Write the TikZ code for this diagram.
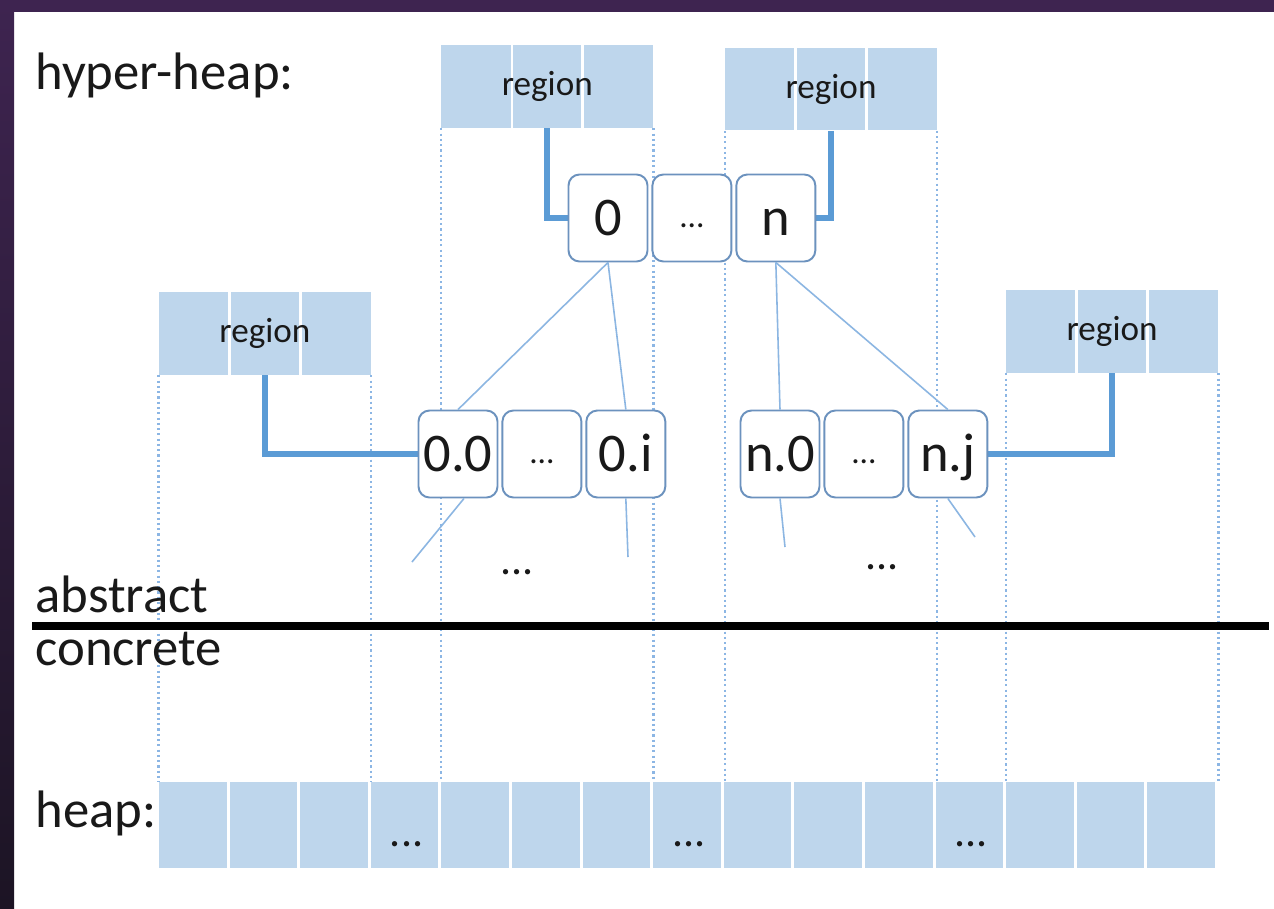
\documentclass[tikz,border=0pt]{standalone}
\usepackage{fontspec}
\setmainfont{Carlito}
\usetikzlibrary{positioning,calc}
\definecolor{cellblue}{RGB}{190,214,236}
\definecolor{idxedge}{RGB}{108,146,190}
\definecolor{linkblue}{RGB}{91,155,213}
\definecolor{treeblue}{RGB}{140,182,226}
\definecolor{guideblue}{RGB}{140,182,228}
\definecolor{frametop}{RGB}{62,36,80}
\definecolor{framebot}{RGB}{28,20,36}
\definecolor{ink}{RGB}{25,25,25}

\begin{document}
\begin{tikzpicture}[x=0.02cm,y=-0.02cm,
 cell/.style={fill=cellblue,minimum width=1.352cm,minimum height=1.72cm,inner sep=0pt},
 region/.style={fill=cellblue,minimum width=4.236cm,minimum height=1.66cm,inner sep=0pt,
   text=ink,font=\fontsize{20}{24}\selectfont,
   path picture={\foreach \f in {1,2}{\draw[white,line width=1.6pt]
     ($(path picture bounding box.north west)!\f/3!(path picture bounding box.north east)$) --
     ($(path picture bounding box.south west)!\f/3!(path picture bounding box.south east)$);}}},
 idx/.style={draw=idxedge,line width=1.1pt,fill=white,rounded corners=0.22cm,
   minimum width=1.58cm,minimum height=1.74cm,inner sep=0pt,text=ink,
   text height=20pt,text depth=0pt,font=\fontsize{31}{36}\selectfont},
 gapbox/.style={idx,text height=11pt,font=\fontsize{19}{22}\selectfont},
 guide/.style={draw=guideblue,line width=1.4pt,dash pattern=on 1.2pt off 1.8pt},
 link/.style={draw=linkblue,line width=3.6pt},
 tree/.style={draw=treeblue,line width=0.9pt},
 lbl/.style={font=\fontsize{30}{36}\selectfont,inner sep=0pt,anchor=base west,text=ink},
 gap/.style={font=\fontsize{25}{30}\selectfont,inner sep=0pt,text=ink}]
\useasboundingbox (0,0) rectangle (1274,909);
\fill[white] (0,0) rectangle (1274,909);
\shade[top color=frametop,bottom color=framebot] (0,0) rectangle (14,909);
\fill[frametop] (0,0) rectangle (1274,12);

% concrete heap
\foreach \i in {1,...,15}
  \node[cell] (h\i) at ({159+70.6*(\i-1)+33.8},825) {};
\foreach \k in {4,8,12}
  \node[gap] (hd\k) at ($(h\k)+(2,19)$) {...};

% regions
\node[region] (rA) at (547.3,86.5) {\raisebox{3pt}{region}};
\node[region] (rB) at (831,89) {\raisebox{3pt}{region}};
\node[region] (rC) at (264.9,333.5) {region};
\node[region] (rD) at (1112.1,331.5) {region};

% guides down to the heap
\foreach \r in {rA,rB,rC,rD}{
  \draw[guide] (\r.south west) -- (\r.south west |- h1.north);
  \draw[guide] (\r.south east) -- (\r.south east |- h1.north);
}

% index tree
\coordinate (i0pos) at (608,218);
\coordinate (i00pos) at (458,454);
\coordinate (in0pos) at (780,454);
\coordinate (t1) at (412,562);
\coordinate (t2) at (628,557);
\coordinate (t3) at (785,547);
\coordinate (t4) at (975,537);
\draw[link] (rA.south) |- ($(i0pos)+(-40,0)$);
\draw[link] (rB.south) |- ($(i0pos)+(204,0)$);
\draw[link] (rC.south) |- ($(i00pos)+(-40,0)$);
\draw[link] (rD.south) |- ($(in0pos)+(204,0)$);

\node[idx] (i0) at (i0pos) {0};
\node[gapbox,right=0.06cm of i0] (idots) {...};
\node[idx,right=0.06cm of idots] (in) {n};
\node[idx] (i00) at (i00pos) {0.0};
\node[gapbox,right=0.06cm of i00] (i0dots) {...};
\node[idx,right=0.06cm of i0dots] (i0i) {0.i};
\node[idx] (in0) at (in0pos) {n.0};
\node[gapbox,right=0.06cm of in0] (indots) {...};
\node[idx,right=0.06cm of indots] (inj) {n.j};

\draw[tree] (i0.south) -- (i00.north);
\draw[tree] (i0.south) -- (i0i.north);
\draw[tree] (in.south) -- (in0.north);
\draw[tree] (in.south) -- (inj.north);
\draw[tree] ([xshift=0.12cm]i00.south) -- (t1);
\draw[tree] (i0i.south) -- (t2);
\draw[tree] (in0.south) -- (t3);
\draw[tree] (inj.south) -- (t4);

\node[gap] (dl) at (517,572) {...};
\node[gap] (dr) at (882,567) {...};

% abstract / concrete
\coordinate (sepL) at (32,626);
\coordinate (sepR) at (1269,626);
\draw[line width=4pt] (sepL) -- (sepR);

\node[lbl] (hh) at (35,90) {hyper-heap:};
\node[lbl] (ab) at (35,612) {abstract};
\node[lbl] (co) at (35,665) {concrete};
\node[lbl] (hp) at (35,827) {heap:};
\end{tikzpicture}
\end{document}
